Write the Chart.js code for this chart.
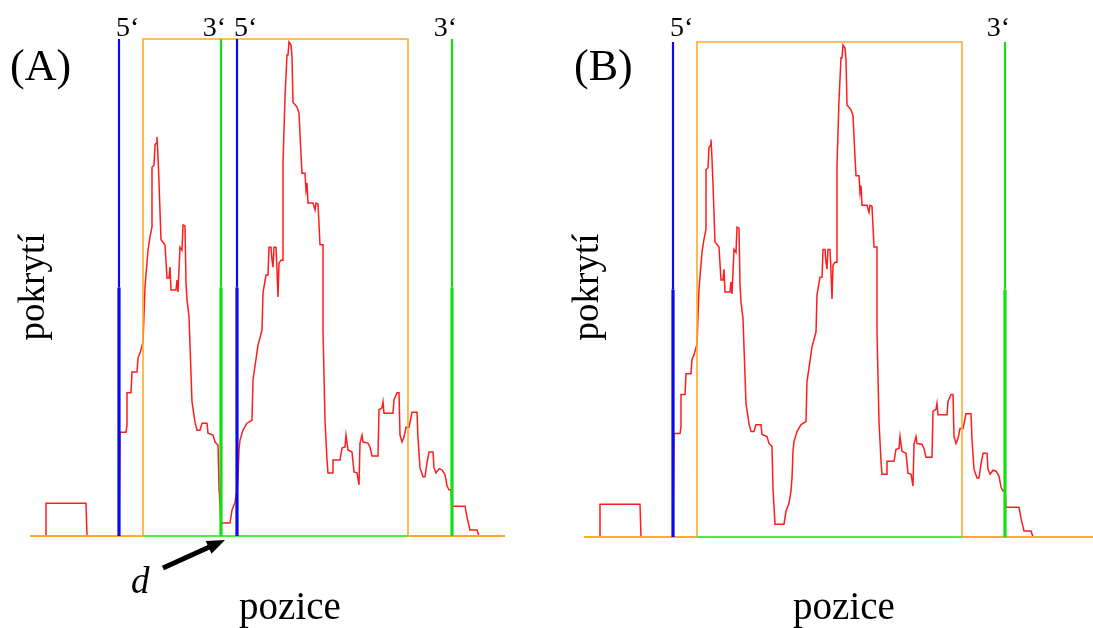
<!DOCTYPE html>
<html lang="cs">
<head>
<meta charset="utf-8">
<title>Pokrytí – (A) a (B)</title>
<script src="https://cdn.jsdelivr.net/npm/chart.js@4.4.1/dist/chart.umd.min.js"></script>
<style>
  html, body { margin: 0; padding: 0; background: #fff; }
  body { width: 1093px; height: 628px; position: relative; overflow: hidden; }
  canvas { position: absolute; top: 0; }
  #chartA { left: 0; }
  #chartB { left: 554px; }
</style>
</head>
<body>
<canvas id="chartA" width="554" height="628"></canvas>
<canvas id="chartB" width="539" height="628"></canvas>
<script>
(function () {
  'use strict';

  // ── Data: pokrytí podél pozice ───────────────────────────────
  var POZICE = [
    0, 16, 16, 56, 57, 89, 90, 96, 97, 97, 101, 102, 107, 108, 110, 113, 115, 118, 120, 122,
    122, 124, 125, 127, 127, 128, 129, 131, 135, 137, 139, 140, 141, 146, 147, 148, 150, 152, 153, 155,
    156, 157, 159, 162, 165, 167, 170, 172, 177, 178, 183, 185, 188, 189, 191, 200, 202, 205, 207, 208,
    209, 210, 213, 217, 222, 223, 228, 232, 233, 236, 238, 239, 241, 242, 243, 244, 246, 247, 248, 249,
    251, 253, 253, 255, 257, 258, 259, 261, 262, 263, 267, 269, 271, 272, 275, 276, 277, 278, 283, 285,
    286, 288, 290, 293, 293, 295, 297, 298, 303, 303, 310, 312, 315, 316, 318, 322, 324, 327, 329, 330,
    332, 333, 338, 340, 342, 348, 349, 352, 353, 354, 363, 364, 367, 369, 370, 372, 374, 376, 379, 382,
    387, 388, 390, 393, 395, 397, 399, 403, 404, 406, 409, 412, 415, 417, 419, 421, 422, 435, 437, 440,
    447, 449, 475
  ];
  var POKRYTI = [
    0, 0, 6.6, 6.6, 0, 0, 20.9, 20.9, 22.3, 28.8, 28.8, 33.0, 33.0, 35.8, 36.8, 39.0, 50.1, 57.5, 60.2, 62.2,
    74.2, 74.6, 78.7, 79.3, 80.3, 76.3, 71.2, 59.6, 58.6, 51.9, 51.9, 54.1, 49.5, 49.5, 51.5, 49.1, 58.1, 57.5, 62.6, 62.4,
    50.9, 47.5, 44.1, 27.0, 22.9, 21.3, 21.3, 22.7, 22.7, 20.7, 20.3, 18.9, 18.3, 9.7, 2.6, 2.6, 5.2, 6.8, 9.3, 11.9,
    17.3, 19.3, 21.3, 22.7, 23.3, 31.4, 38.4, 41.4, 48.9, 52.5, 52.5, 58.1, 58.1, 55.5, 54.1, 58.1, 58.1, 53.5, 48.1, 54.9,
    55.5, 55.5, 75.1, 88.3, 96.8, 96.8, 99.4, 98.8, 96.4, 87.3, 86.3, 85.1, 76.7, 73.0, 73.0, 69.6, 71.0, 67.0, 67.0, 65.6,
    67.0, 66.8, 58.6, 58.6, 41.4, 23.3, 15.3, 12.7, 12.7, 15.3, 15.3, 17.7, 17.9, 20.3, 17.3, 16.9, 12.9, 12.7, 10.3, 18.7,
    20.3, 18.9, 18.7, 17.9, 16.1, 16.1, 25.4, 25.8, 27.0, 24.7, 24.7, 27.4, 28.8, 28.8, 20.3, 18.9, 19.9, 21.9, 21.9, 24.9,
    24.9, 19.7, 13.7, 11.9, 11.9, 14.7, 16.9, 16.9, 13.7, 12.7, 13.5, 13.3, 12.3, 10.1, 9.3, 9.3, 6.0, 6.0, 3.8, 1.2,
    1.2, 0, 0
  ];

  // oblast (oranžový obdélník) a konce fragmentů
  var OBLAST    = [113, 378];
  var STROP     = 100;
  var KONEC_A   = 475;
  var KONEC_B   = 509;
  var KONCE_5_A = [89, 207];
  var KONCE_3_A = [191, 422];
  var KONCE_5_B = [89];
  var KONCE_3_B = [421];
  var MEZERA_D  = 195;

  var SERIF = '"Liberation Serif", "Times New Roman", serif';

  // ── Pomocné funkce ────────────────────────────────────────────
  function body(xs, ys) {
    return xs.map(function (x, i) { return { x: x, y: ys[i] }; });
  }

  function svisle(xs, od, po) {
    var out = [];
    xs.forEach(function (x) { out.push({ x: x, y: od }, { x: x, y: po }, { x: x, y: null }); });
    return out;
  }

  function cara(data, color, width, order) {
    return {
      data: data, borderColor: color, borderWidth: width, pointRadius: 0,
      fill: false, tension: 0, clip: false, spanGaps: false, order: order
    };
  }

  // ── Popisky (5‘, 3‘, osy, šipka d) ───────────────────────────
  var popisky = {
    id: 'popisky',
    afterDraw: function (chart, args, o) {
      var ctx = chart.ctx, xs = chart.scales.x, ys = chart.scales.y;
      var base = ys.getPixelForValue(0);
      ctx.save();
      ctx.fillStyle = '#000';
      ctx.textBaseline = 'alphabetic';

      ctx.font = '44px ' + SERIF;
      ctx.textAlign = 'left';
      ctx.fillText(o.pismeno, o.pismenoX, 80);

      ctx.font = '28px ' + SERIF;
      o.konce5.forEach(function (p) {
        ctx.textAlign = 'left';
        ctx.fillText('5\u2018', xs.getPixelForValue(p) - 3, 36);
      });
      o.konce3.forEach(function (p) {
        ctx.textAlign = 'right';
        ctx.fillText('3\u2018', xs.getPixelForValue(p) + 5, 36);
      });

      ctx.font = '39px ' + SERIF;
      ctx.textAlign = 'center';
      ctx.fillText('pozice', o.poziceX, 619);

      ctx.save();
      ctx.translate(o.pokrytiX, 287);
      ctx.rotate(-Math.PI / 2);
      ctx.textBaseline = 'middle';
      ctx.font = '37px ' + SERIF;
      ctx.fillText('pokrytí', 0, 0);
      ctx.restore();

      if (o.sipka != null) {
        var tx = xs.getPixelForValue(o.sipka), ty = base + 4;
        var sx = tx - 62, sy = ty + 28;
        var a = Math.atan2(ty - sy, tx - sx);
        var hl = 18, hw = 7;
        ctx.strokeStyle = '#000';
        ctx.lineWidth = 5;
        ctx.beginPath();
        ctx.moveTo(sx, sy);
        ctx.lineTo(tx - Math.cos(a) * (hl - 2), ty - Math.sin(a) * (hl - 2));
        ctx.stroke();
        ctx.beginPath();
        ctx.moveTo(tx, ty);
        ctx.lineTo(tx - Math.cos(a) * hl + Math.sin(a) * hw, ty - Math.sin(a) * hl - Math.cos(a) * hw);
        ctx.lineTo(tx - Math.cos(a) * hl - Math.sin(a) * hw, ty - Math.sin(a) * hl + Math.cos(a) * hw);
        ctx.closePath();
        ctx.fill();

        ctx.font = 'italic 37px ' + SERIF;
        ctx.textAlign = 'left';
        ctx.fillText('d', 131, 593);
      }
      ctx.restore();
    }
  };

  // ── Panel ─────────────────────────────────────────────────────
  function panel(id, opt) {
    var datasets = [
      cara(body(POZICE, POKRYTI), '#ff1c1c', 1.5, 6),
      cara([{ x: OBLAST[0], y: 0 }, { x: OBLAST[0], y: STROP }, { x: OBLAST[1], y: STROP }, { x: OBLAST[1], y: 0 }], '#ffaa2a', 1.6, 5),
      cara([{ x: 0, y: 0 }, { x: OBLAST[0], y: 0 }, { x: OBLAST[0], y: null }, { x: OBLAST[1], y: 0 }, { x: opt.konec, y: 0 }], '#ffaa2a', 2, 4),
      cara([{ x: OBLAST[0], y: 0 }, { x: OBLAST[1], y: 0 }], '#4ce84c', 2, 3),
      cara(svisle(opt.konce5, 0, 50), '#0a0af0', 3.2, 2),
      cara(svisle(opt.konce5, 50, STROP), '#0a0af0', 2.2, 2),
      cara(svisle(opt.konce3, 0, 50), '#12e012', 3.2, 1),
      cara(svisle(opt.konce3, 50, STROP), '#12e012', 2.2, 1)
    ];

    new Chart(document.getElementById(id).getContext('2d'), {
      type: 'line',
      data: { datasets: datasets },
      plugins: [popisky],
      options: {
        responsive: false,
        animation: false,
        events: [],
        layout: { padding: { left: 30, top: opt.top, right: opt.right, bottom: opt.bottom } },
        plugins: {
          legend: { display: false },
          tooltip: { enabled: false },
          popisky: {
            pismeno: opt.pismeno, pismenoX: opt.pismenoX,
            konce5: opt.konce5, konce3: opt.konce3,
            poziceX: 290, pokrytiX: 34, sipka: opt.sipka
          }
        },
        scales: {
          x: { type: 'linear', min: 0, max: opt.konec, display: false },
          y: { type: 'linear', min: 0, max: STROP, display: false }
        }
      }
    });
  }

  panel('chartA', {
    pismeno: '(A)', pismenoX: 10, konec: KONEC_A, top: 39, bottom: 92, right: 554 - 30 - KONEC_A,
    konce5: KONCE_5_A, konce3: KONCE_3_A, sipka: MEZERA_D
  });
  panel('chartB', {
    pismeno: '(B)', pismenoX: 20, konec: KONEC_B, top: 42, bottom: 91, right: 0,
    konce5: KONCE_5_B, konce3: KONCE_3_B, sipka: null
  });
})();
</script>
</body>
</html>
